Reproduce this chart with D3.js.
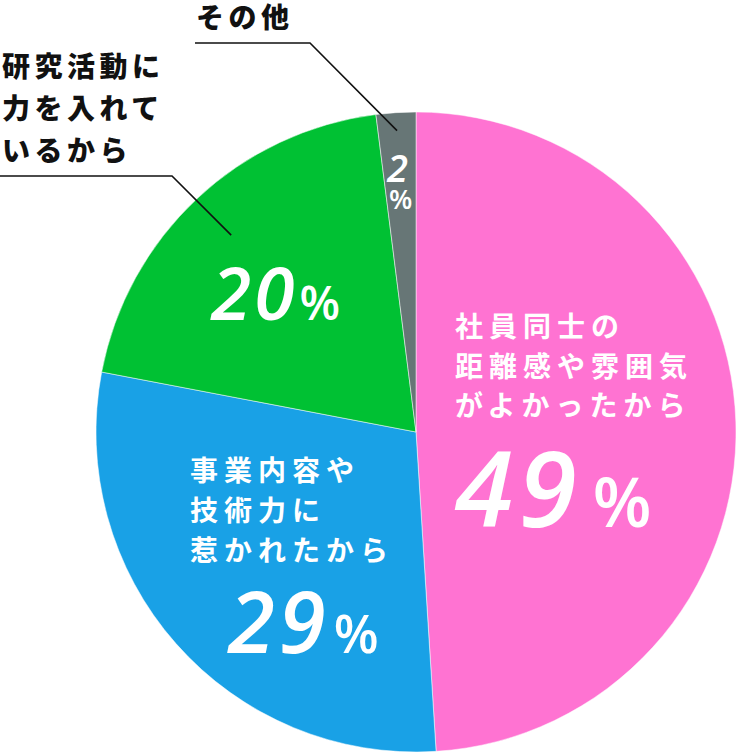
<!DOCTYPE html>
<html>
<head>
<meta charset="utf-8">
<script src="https://cdn.jsdelivr.net/npm/d3@7"></script>
<style>
  html, body { margin: 0; padding: 0; background: #fff; }
  svg { display: block; }
  .jp { font-family: "Noto Sans CJK JP", sans-serif; }
  .num { font-family: "Open Sans", sans-serif; fill: #fff; }
</style>
</head>
<body>
<div id="chart"></div>
<script>
// chart data
const categories = ["社員同士の距離感や雰囲気がよかったから", "事業内容や技術力に惹かれたから", "研究活動に力を入れているから", "その他"];
const values = [49, 29, 20, 2];
const colors = ["#ff73d2", "#19a1e6", "#00c133", "#677676"];

// label text split into lines
const labelLines = [
    ["社員同士の", "距離感や雰囲気", "がよかったから"],
    ["事業内容や", "技術力に", "惹かれたから"],
    ["研究活動に", "力を入れて", "いるから"],
    ["その他"]
];

const width = 737, height = 753;
const cx = 416, cy = 432, radius = 320;

let svg = d3.select("#chart").append("svg")
    .attr("width", width)
    .attr("height", height);

let data = categories.map((c, i) => ({name: c, value: values[i], color: colors[i], lines: labelLines[i]}));

let pie = d3.pie().value(d => d.value).sort(null);
let arc = d3.arc().innerRadius(0).outerRadius(radius);
let arcs = pie(data);

let g = svg.append("g").attr("transform", `translate(${cx},${cy})`);

g.selectAll("path.slice")
    .data(arcs)
    .join("path")
    .attr("class", "slice")
    .attr("d", arc)
    .attr("fill", d => d.data.color)
    .attr("stroke", "#fff")
    .attr("stroke-width", 0.5);

// text placement (inside slices for big ones, outside with leader for small ones)
const layout = [
    {x: 455, y: 337, pitch: 39.5, size: 28, ls: 6, color: "#fff", weight: 700,
     num: {x: 455, y: 527, size: 105, pct: 68, dx: 10, ls: 6}},
    {x: 190, y: 481, pitch: 40, size: 28, ls: 6, color: "#fff", weight: 700,
     num: {x: 228, y: 653, size: 85, pct: 52, dx: 4, ls: 4}},
    {x: 2, y: 77, pitch: 42, size: 28, ls: 4.5, color: "#111", weight: 900,
     num: {x: 211, y: 320, size: 73, pct: 47, dx: 2, ls: 3},
     leader: {r: 270, from: [0, 176], knee: [172, 176]}},
    {x: 196, y: 28, pitch: 40, size: 28, ls: 4.5, color: "#111", weight: 900,
     num: {x: 387, y: 182, size: 38, pct: 27, stacked: true, py: 209, px: 389},
     leader: {r: 302, from: [195, 43], knee: [310, 43]}}
];

// category labels
arcs.forEach((a, i) => {
    let L = layout[i];
    let t = svg.append("text")
        .attr("class", "jp")
        .attr("fill", L.color)
        .attr("font-size", L.size)
        .attr("font-weight", L.weight)
        .attr("letter-spacing", L.ls);
    a.data.lines.forEach((line, k) => {
        t.append("tspan").attr("x", L.x).attr("y", L.y + k * L.pitch).text(line);
    });

    // leader line to the slice
    if (L.leader) {
        let mid = (a.startAngle + a.endAngle) / 2;
        let p = d3.pointRadial(mid, L.leader.r);
        svg.append("path")
            .attr("d", d3.line()([L.leader.from, L.leader.knee, [cx + p[0], cy + p[1]]]))
            .attr("fill", "none")
            .attr("stroke", "#111")
            .attr("stroke-width", 1.6);
    }

    // percentage number
    let n = L.num;
    if (n.stacked) {
        svg.append("text").attr("class", "num")
            .attr("x", n.x).attr("y", n.y)
            .attr("font-size", n.size).attr("font-style", "italic").attr("font-weight", 600)
            .text(a.data.value);
        svg.append("text").attr("class", "num")
            .attr("x", n.px).attr("y", n.py)
            .attr("font-size", n.pct).attr("font-weight", 600)
            .text("%");
    } else {
        let nt = svg.append("text").attr("class", "num")
            .attr("x", n.x).attr("y", n.y).attr("font-weight", 600);
        nt.append("tspan").attr("font-size", n.size).attr("font-style", "italic")
            .attr("letter-spacing", n.ls).text(a.data.value);
        nt.append("tspan").attr("font-size", n.pct).attr("dx", n.dx).text("%");
    }
});
</script>
</body>
</html>
